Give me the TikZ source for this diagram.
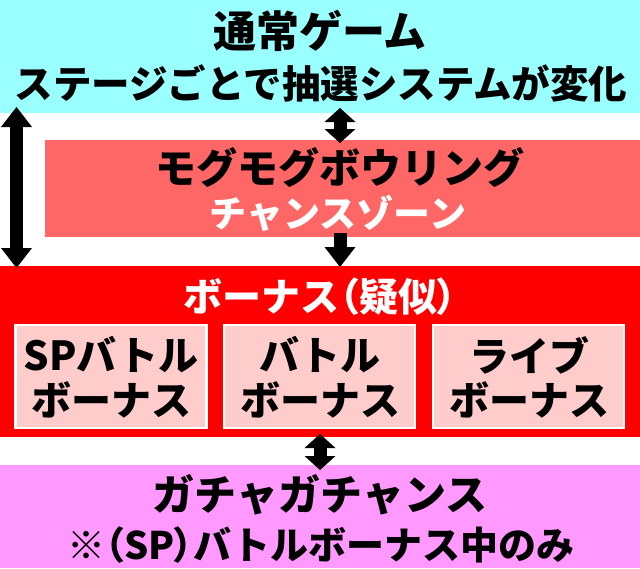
\documentclass[tikz,border=0pt]{standalone}
\usepackage{fontspec}
\IfFontExistsTF{Noto Sans CJK JP Black}{%
  \newfontfamily\jp{Noto Sans CJK JP Black}%
  \newfontfamily\jpp{Noto Sans CJK JP Black}[RawFeature=+palt]%
}{%
  \newfontfamily\jp{Noto Sans CJK JP}[UprightFont=* Bold,FakeBold=1]%
  \newfontfamily\jpp{Noto Sans CJK JP}[UprightFont=* Bold,FakeBold=1,RawFeature=+palt]%
}
\usetikzlibrary{arrows.meta,calc}
\definecolor{cyanbg}{HTML}{99FFFF}
\definecolor{salmonbg}{HTML}{FF6666}
\definecolor{redbg}{HTML}{FF0000}
\definecolor{boxbg}{HTML}{FFCCCC}
\definecolor{pinkbg}{HTML}{FF99FF}
\tikzset{
  band/.style={inner sep=0pt,outer sep=0pt,draw=none,anchor=north west},
  subbox/.style={inner sep=0pt,outer sep=0pt,fill=boxbg,draw=white,line width=2.5pt,anchor=north west,minimum width=191pt,minimum height=103pt},
  txt/.style={inner sep=0pt,outer sep=0pt,anchor=center,font=\jp},
  fatboth/.style={line width=13pt,{Triangle[width=31pt,length=#1,line width=0pt]}-{Triangle[width=31pt,length=#1,line width=0pt]}},
  fatend/.style={line width=13pt,-{Triangle[width=31pt,length=#1,line width=0pt]}}
}
\begin{document}
\begin{tikzpicture}[x=1pt,y=-1pt]
\useasboundingbox (0,0) rectangle (640,568);
\fill[white] (0,0) rectangle (640,568);
% bands
\node[band,fill=cyanbg,minimum width=640pt,minimum height=113pt] (cyan) at (0,0) {};
\node[band,fill=salmonbg,minimum width=595pt,minimum height=97pt] (salmon) at (45,140) {};
\node[band,fill=redbg,minimum width=640pt,minimum height=171pt] (red) at (0,266) {};
\node[band,fill=pinkbg,minimum width=640pt,minimum height=103pt] (pink) at (0,465) {};
% sub boxes
\node[subbox] (b1) at (15.5,325) {};
\node[subbox] (b2) at (224,325) {};
\node[subbox] (b3) at (433,325) {};
% texts
\node[txt,font=\jp\fontsize{43pt}{43pt}\selectfont] (t1) at (320,31) {通常ゲーム};
\node[txt,font=\jp\fontsize{38.5pt}{38.5pt}\selectfont] (t2) at (321,83) {ステージごとで抽選システムが変化};
\node[txt,font=\jp\fontsize{41pt}{41pt}\selectfont] (t3) at (340,168) {モグモグボウリング};
\node[txt,font=\jp\fontsize{37pt}{37pt}\selectfont,text=white] (t4) at (338,213) {チャンスゾーン};
\node[txt,font=\jp\fontsize{39pt}{39pt}\selectfont,text=white] (t5) at (320,297) {ボーナス{\jpp （}疑似{\jpp ）}};
\node[txt,font=\jp\fontsize{40pt}{40pt}\selectfont] (b1a) at (111,355) {SPバトル};
\node[txt,font=\jp\fontsize{40pt}{40pt}\selectfont] (b1b) at (111,400) {ボーナス};
\node[txt,font=\jp\fontsize{40pt}{40pt}\selectfont] (b2a) at (320,355) {バトル};
\node[txt,font=\jp\fontsize{40pt}{40pt}\selectfont] (b2b) at (320,400) {ボーナス};
\node[txt,font=\jp\fontsize{40pt}{40pt}\selectfont] (b3a) at (529,355) {ライブ};
\node[txt,font=\jp\fontsize{40pt}{40pt}\selectfont] (b3b) at (529,400) {ボーナス};
\node[txt,font=\jp\fontsize{42pt}{42pt}\selectfont] (t6) at (320,495) {ガチャガチャンス};
\node[txt,font=\jp\fontsize{38pt}{38pt}\selectfont] (t7) at (321,545) {※{\jpp （}SP{\jpp ）}バトルボーナス中のみ};
% arrow x positions
\coordinate (lx) at (16.5,0);
\coordinate (ax) at (340,0);
\coordinate (bx) at (320,0);
% arrows
\draw[fatboth=20pt] ($(cyan.south -| lx)+(0,-6)$) -- ($(red.north -| lx)+(0,2)$);
\draw[fatboth=14pt] ($(cyan.south -| ax)+(0,-5)$) -- ($(salmon.north -| ax)+(0,3)$);
\draw[fatend=20pt] ($(salmon.south -| ax)+(0,-4)$) -- ($(red.north -| ax)+(0,1)$);
\draw[fatboth=14pt] ($(red.south -| bx)+(0,-3)$) -- ($(pink.north -| bx)+(0,5)$);
\end{tikzpicture}
\end{document}
